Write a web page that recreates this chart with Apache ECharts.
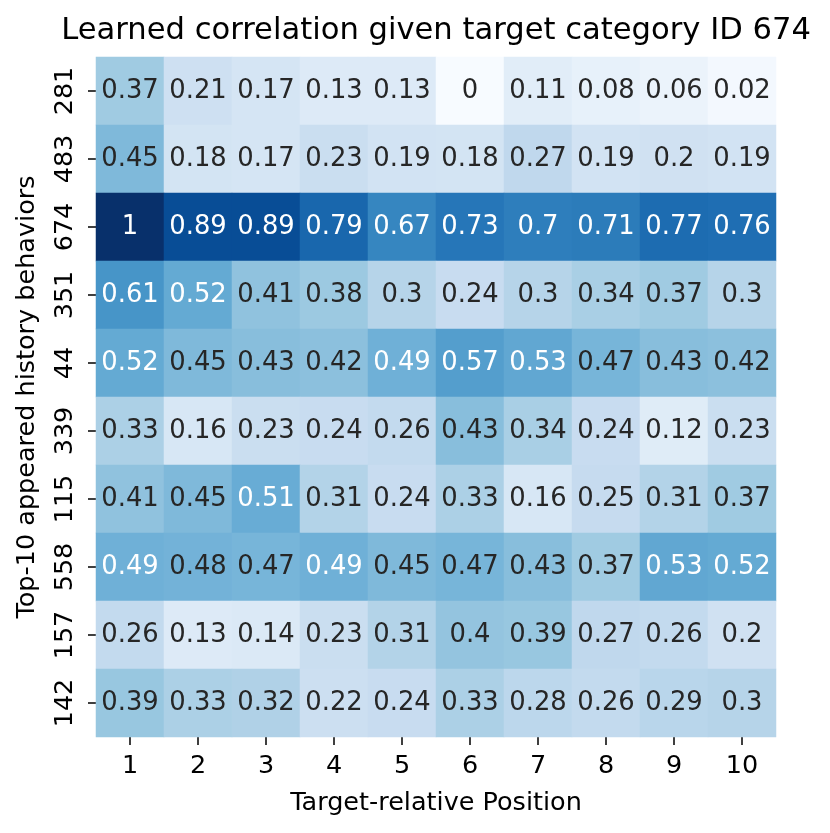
<!DOCTYPE html>
<html>
<head>
<meta charset="utf-8">
<script src="https://cdn.jsdelivr.net/npm/echarts@6/dist/echarts.min.js"></script>
<style>
  html, body { margin: 0; padding: 0; background: #fff; }
  #chart { width: 830px; height: 833px; }
</style>
</head>
<body>
<div id="chart"></div>
<script>
// 横轴：目标相对位置
var positions = ['1', '2', '3', '4', '5', '6', '7', '8', '9', '10'];
// 纵轴：出现次数前10的历史行为
var behaviors = ['281', '483', '674', '351', '44', '339', '115', '558', '157', '142'];
// 每行的相关系数（从上到下）
var row281 = [0.37, 0.21, 0.17, 0.13, 0.13, 0, 0.11, 0.08, 0.06, 0.02];
var row483 = [0.45, 0.18, 0.17, 0.23, 0.19, 0.18, 0.27, 0.19, 0.2, 0.19];
var row674 = [1, 0.89, 0.89, 0.79, 0.67, 0.73, 0.7, 0.71, 0.77, 0.76];
var row351 = [0.61, 0.52, 0.41, 0.38, 0.3, 0.24, 0.3, 0.34, 0.37, 0.3];
var row44  = [0.52, 0.45, 0.43, 0.42, 0.49, 0.57, 0.53, 0.47, 0.43, 0.42];
var row339 = [0.33, 0.16, 0.23, 0.24, 0.26, 0.43, 0.34, 0.24, 0.12, 0.23];
var row115 = [0.41, 0.45, 0.51, 0.31, 0.24, 0.33, 0.16, 0.25, 0.31, 0.37];
var row558 = [0.49, 0.48, 0.47, 0.49, 0.45, 0.47, 0.43, 0.37, 0.53, 0.52];
var row157 = [0.26, 0.13, 0.14, 0.23, 0.31, 0.4, 0.39, 0.27, 0.26, 0.2];
var row142 = [0.39, 0.33, 0.32, 0.22, 0.24, 0.33, 0.28, 0.26, 0.29, 0.3];
var rows = [row281, row483, row674, row351, row44, row339, row115, row558, row157, row142];

// Blues 色带
var blues = ['#f7fbff', '#deebf7', '#c6dbef', '#9ecae1', '#6baed6', '#4292c6', '#2171b5', '#08519c', '#08306b'];

var cells = [];
rows.forEach(function (row, y) {
    row.forEach(function (v, x) {
        cells.push({
            value: [x, y, v],
            label: { color: v > 0.485 ? '#ffffff' : '#262626' }   // 深色格子用白字
        });
    });
});

var font = 'DejaVu Sans';
var chart = echarts.init(document.getElementById('chart'));
var option = {
    animation: false,
    textStyle: { fontFamily: font },
    title: {
        text: 'Learned correlation given target category ID 674',
        left: 431,
        textAlign: 'center',
        top: 11,
        textStyle: { fontFamily: font, fontSize: 30.6, fontWeight: 'normal', color: '#000' }
    },
    grid: { left: 96, top: 57, width: 680, height: 680 },
    xAxis: {
        type: 'category',
        data: positions,
        name: 'Target-relative Position',
        nameLocation: 'middle',
        nameGap: 53,
        nameTextStyle: { fontFamily: font, fontSize: 25.5, color: '#000' },
        axisLine: { show: false },
        axisTick: { show: true, alignWithLabel: true, length: 8, lineStyle: { color: '#000', width: 1.5 } },
        axisLabel: { fontFamily: font, fontSize: 25.5, color: '#000', margin: 16 },
        splitLine: { show: false }
    },
    yAxis: {
        type: 'category',
        data: behaviors,
        inverse: true,
        name: 'Top-10 appeared history behaviors',
        nameLocation: 'middle',
        nameGap: 56,
        nameTextStyle: { fontFamily: font, fontSize: 25.5, color: '#000' },
        axisLine: { show: false },
        axisTick: { show: true, alignWithLabel: true, length: 8, lineStyle: { color: '#000', width: 1.5 } },
        axisLabel: { fontFamily: font, fontSize: 25.5, color: '#000', rotate: 90, margin: 18 },
        splitLine: { show: false }
    },
    visualMap: {
        show: false,
        type: 'continuous',
        min: 0,
        max: 1,
        dimension: 2,
        inRange: { color: blues }
    },
    series: [{
        type: 'heatmap',
        data: cells,
        itemStyle: { borderWidth: 0 },
        label: {
            show: true,
            fontFamily: font,
            fontSize: 25.8,
            formatter: function (p) { return String(p.value[2]); }
        },
        emphasis: { disabled: true }
    }]
};
chart.setOption(option);
</script>
</body>
</html>
